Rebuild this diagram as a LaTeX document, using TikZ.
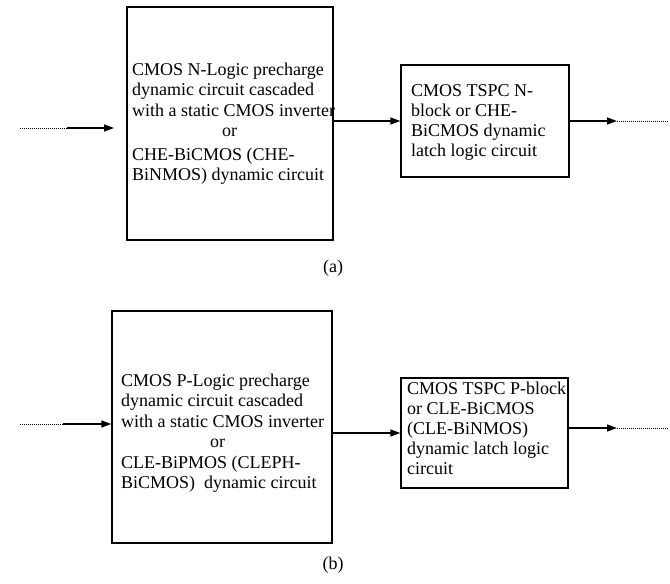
\documentclass[tikz,border=0pt]{standalone}
\usepackage{fontspec}
\setmainfont{Liberation Serif}
\usetikzlibrary{arrows.meta}
\begin{document}
\begin{tikzpicture}[x=1pt,y=-1pt,
  blk/.style={draw, line width=1.3pt, inner sep=0pt},
  txt/.style={anchor=north west, inner sep=0pt, align=left, font=\fontsize{18}{20.5}\selectfont},
  arr/.style={line width=1.4pt, -{Triangle[length=10pt,width=7pt]}},
  dots/.style={line width=0.9pt, dash pattern=on 1pt off 1pt},
  lbl/.style={font=\fontsize{18}{20}\selectfont, inner sep=0pt}]
\useasboundingbox (0,0) rectangle (670,584);

% (a)
\node[blk, minimum width=206pt, minimum height=233pt] (A1) at (230,123.5) {};
\node[blk, minimum width=168pt, minimum height=112pt] (A2) at (485,121) {};
\node[txt] (A1t) at (132,62.5) {CMOS N-Logic precharge\\dynamic circuit cascaded\\with a static CMOS inverter\\\hspace*{90pt}or\\[3pt]CHE-BiCMOS (CHE-\\BiNMOS) dynamic circuit};
\node[txt, font=\fontsize{18}{20}\selectfont] (A2t) at (411,84.5) {CMOS TSPC N-\\block or CHE-\\BiCMOS dynamic\\latch logic circuit};
\coordinate (ai0) at (20,128);
\coordinate (ai1) at (67,128);
\coordinate (ai2) at (114,128);
\draw[dots] (ai0) -- (ai1);
\draw[arr] (ai1) -- (ai2);
\draw[arr] (A1.east |- A2.west) -- (A2.west);
\coordinate (ao1) at (617,121);
\coordinate (ao2) at (668,121);
\draw[arr] (A2.east) -- (ao1);
\draw[dots] (ao1) -- (ao2);
\node[lbl] (la) at (333,268) {(a)};

% (b)
\node[blk, minimum width=220pt, minimum height=232pt] (B1) at (222,427) {};
\node[blk, minimum width=167pt, minimum height=110pt] (B2) at (484.5,433) {};
\node[txt] (B1t) at (121,373.5) {CMOS P-Logic precharge\\dynamic circuit cascaded\\with a static CMOS inverter\\\hspace*{89pt}or\\CLE-BiPMOS (CLEPH-\\BiCMOS)\ \ dynamic circuit};
\node[txt, font=\fontsize{18}{20}\selectfont] (B2t) at (407,381.5) {CMOS TSPC P-block\\or CLE-BiCMOS\\(CLE-BiNMOS)\\dynamic latch logic\\circuit};
\coordinate (bi0) at (20,424);
\coordinate (bi1) at (63,424);
\draw[dots] (bi0) -- (bi1);
\draw[arr] (bi1) -- (bi1 -| B1.west);
\draw[arr] (B1.east |- B2.west) -- (B2.west);
\coordinate (bo1) at (617,428);
\coordinate (bo2) at (668,428);
\draw[arr] (B2.east |- bo1) -- (bo1);
\draw[dots] (bo1) -- (bo2);
\node[lbl] (lb) at (333,565) {(b)};
\end{tikzpicture}
\end{document}
